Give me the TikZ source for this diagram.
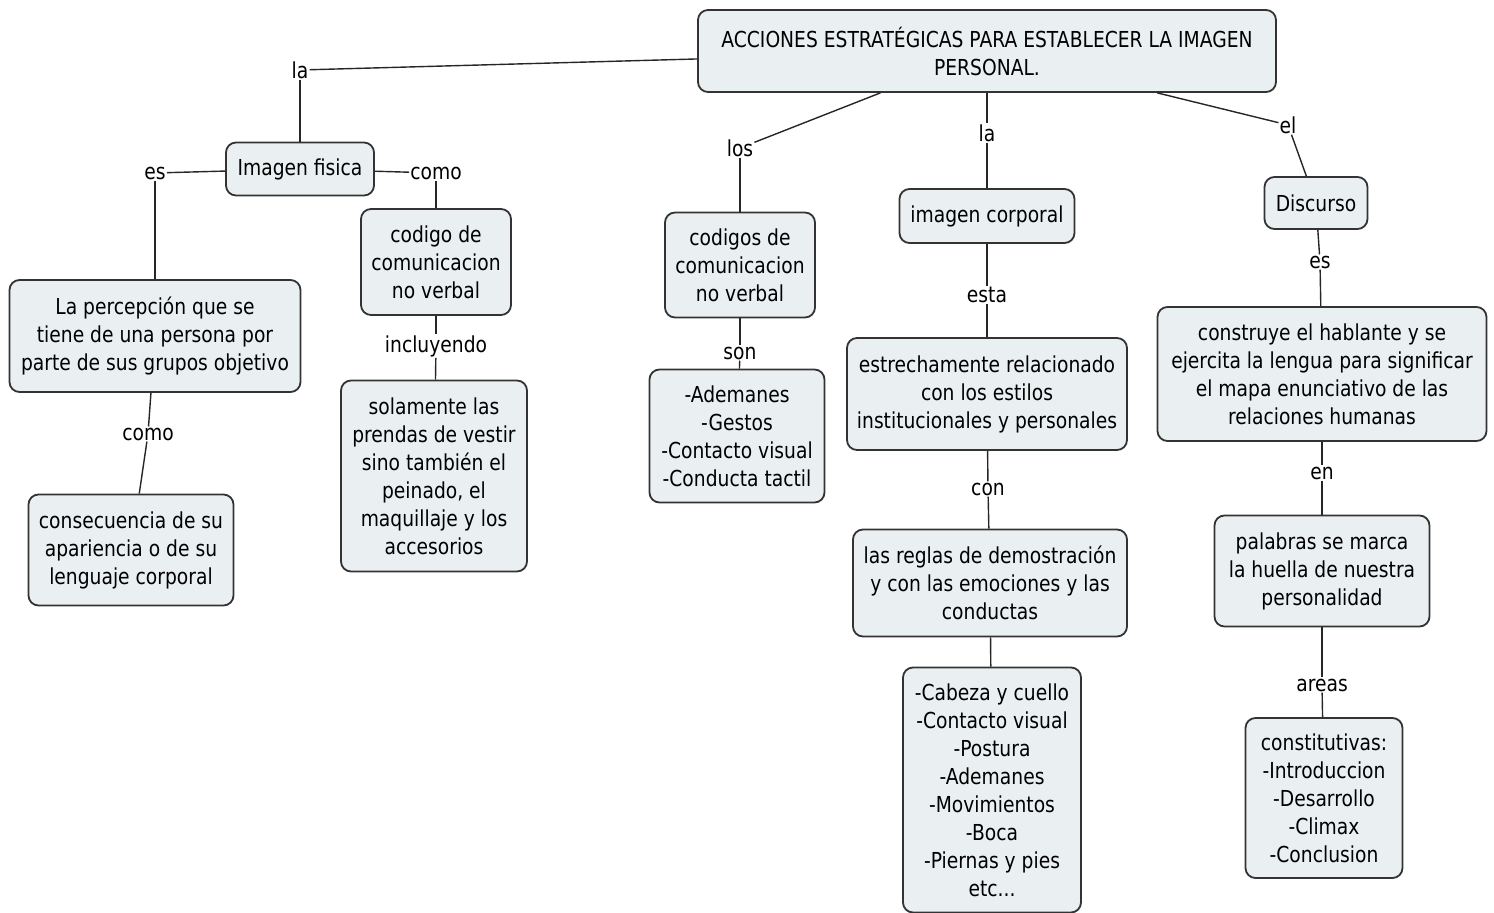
\documentclass[tikz,border=0pt]{standalone}
\usepackage{fontspec}
\setmainfont{DejaVu Sans}[FakeStretch=0.85]
\definecolor{boxfill}{HTML}{EAF0F2}
\begin{document}
\begin{tikzpicture}[x=1pt,y=-1pt,
  concept/.style={draw=black!80,line width=1.8pt,fill=boxfill,rounded corners=10pt,
    align=center,inner sep=2pt,font=\fontsize{22}{28}\selectfont},
  link/.style={inner sep=1pt,font=\fontsize{22}{28}\selectfont},
  conn/.style={line width=1.4pt,black!85}]
\useasboundingbox (0,0) rectangle (1494,913);
\node[concept,minimum width=578,minimum height=82] (root) at (987,51) {ACCIONES ESTRATÉGICAS PARA ESTABLECER LA IMAGEN\\PERSONAL.};
\node[concept,minimum width=148,minimum height=53] (imgfis) at (300,169) {Imagen fisica};
\node[concept,minimum width=150,minimum height=106] (codigo) at (436,262) {codigo de\\comunicacion\\no verbal};
\node[concept,minimum width=291,minimum height=112] (percep) at (155,336) {La percepción que se\\tiene de una persona por\\parte de sus grupos objetivo};
\node[concept,minimum width=186,minimum height=191] (prendas) at (434,476) {solamente las\\prendas de vestir\\sino también el\\peinado, el\\maquillaje y los\\accesorios};
\node[concept,minimum width=205,minimum height=111] (consec) at (131,550) {consecuencia de su\\apariencia o de su\\lenguaje corporal};
\node[concept,minimum width=150,minimum height=105] (codigos) at (740,265) {codigos de\\comunicacion\\no verbal};
\node[concept,minimum width=175,minimum height=133] (ademanes) at (737,436) {-Ademanes\\-Gestos\\-Contacto visual\\-Conducta tactil};
\node[concept,minimum width=175,minimum height=54] (corporal) at (987,216) {imagen corporal};
\node[concept,minimum width=280,minimum height=112] (estilos) at (987,394) {estrechamente relacionado\\con los estilos\\institucionales y personales};
\node[concept,minimum width=274,minimum height=107] (reglas) at (990,583) {las reglas de demostración\\y con las emociones y las\\conductas};
\node[concept,minimum width=178,minimum height=245] (cabeza) at (992,790) {-Cabeza y cuello\\-Contacto visual\\-Postura\\-Ademanes\\-Movimientos\\-Boca\\-Piernas y pies\\etc...};
\node[concept,minimum width=103,minimum height=52] (discurso) at (1316,203) {Discurso};
\node[concept,minimum width=329,minimum height=134] (construye) at (1322,374) {construye el hablante y se\\ejercita la lengua para significar\\el mapa enunciativo de las\\relaciones humanas};
\node[concept,minimum width=215,minimum height=111] (palabras) at (1322,571) {palabras se marca\\la huella de nuestra\\personalidad};
\node[concept,minimum width=157,minimum height=160] (constit) at (1324,798) {constitutivas:\\-Introduccion\\-Desarrollo\\-Climax\\-Conclusion};
\node[link] (la1) at (300,70) {la};
\node[link] (es1) at (155,173) {es};
\node[link] (como1) at (436,173) {como};
\node[link] (incl) at (436,346) {incluyendo};
\node[link] (como2) at (148,434) {como};
\node[link] (los) at (740,148) {los};
\node[link] (son) at (740,353) {son};
\node[link] (la2) at (987,133) {la};
\node[link] (esta) at (987,295) {esta};
\node[link] (con) at (988,489) {con};
\node[link] (el) at (1288,125) {el};
\node[link] (es2) at (1320,262) {es};
\node[link] (en) at (1322,473) {en};
\node[link] (areas) at (1322,685) {areas};
\foreach \a/\b in {root/la1,la1/imgfis,imgfis/es1,es1/percep,percep/como2,como2/consec,
  imgfis/como1,como1/codigo,codigo/incl,incl/prendas,
  root/los,los/codigos,codigos/son,son/ademanes,
  root/la2,la2/corporal,corporal/esta,esta/estilos,estilos/con,con/reglas,reglas/cabeza,
  root/el,el/discurso,discurso/es2,es2/construye,construye/en,en/palabras,palabras/areas,areas/constit}
  \draw[conn] (\a) -- (\b);
%\draw[help lines] (0,0) grid (1494,913);
\end{tikzpicture}
\end{document}
